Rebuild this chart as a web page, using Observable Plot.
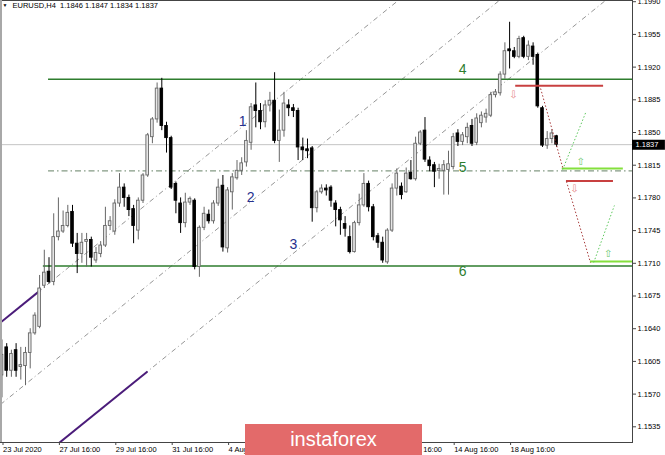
<!DOCTYPE html>
<html>
<head>
<meta charset="utf-8">
<script src="https://cdn.jsdelivr.net/npm/d3@7"></script>
<script src="https://cdn.jsdelivr.net/npm/@observablehq/plot@0.6"></script>
<style>
  body { margin: 0; background: #fff; }
  #chart { position: relative; width: 665px; height: 455px; overflow: hidden; }
  #banner { position: absolute; left: 245px; top: 424px; width: 177px; height: 31px;
    background: #e36a6a; color: #fff; font: 20px "Liberation Sans", Arial, sans-serif;
    text-align: center; line-height: 31px; }
</style>
</head>
<body>
<div id="chart"></div>
<script>
// ---- data (EURUSD H4, bars from 23 Jul 2020 16:00) ----
const symbol = "EURUSD";
const timeframe = "H4";
const opens = [
1.1590,1.1620,1.1595,1.1617,1.1599,1.1600,1.1614,1.1635,1.1642,1.1686,
1.1701,1.1690,1.1738,1.1744,1.1750,1.1765,1.1731,1.1720,1.1733,1.1735,
1.1713,1.1720,1.1729,1.1750,1.1744,1.1774,1.1791,1.1780,1.1768,1.1745,
1.1777,1.1804,1.1845,1.1864,1.1897,1.1857,1.1844,1.1795,1.1774,1.1753,
1.1775,1.1777,1.1706,1.1748,1.1762,1.1755,1.1774,1.1793,1.1726,1.1786,
1.1801,1.1809,1.1818,1.1839,1.1879,1.1873,1.1861,1.1879,1.1884,1.1841,
1.1852,1.1879,1.1876,1.1873,1.1834,1.1832,1.1833,1.1769,1.1786,1.1790,
1.1791,1.1774,1.1767,1.1752,1.1738,1.1722,1.1753,1.1772,1.1795,1.1770,
1.1739,1.1732,1.1711,1.1745,1.1790,1.1792,1.1786,1.1807,1.1800,1.1838,
1.1852,1.1820,1.1815,1.1809,1.1809,1.1810,1.1813,1.1849,1.1840,1.1845,
1.1857,1.1839,1.1860,1.1866,1.1868,1.1890,1.1892,1.1912,1.1939,1.1937,
1.1931,1.1951,1.1931,1.1942,1.1933,1.1876,1.1836,1.1843,1.1846];
const highs = [
1.1628,1.1624,1.1617,1.1624,1.1620,1.1620,1.1640,1.1657,1.1697,1.1724,
1.1716,1.1763,1.1780,1.1766,1.1772,1.1772,1.1742,1.1742,1.1742,1.1738,
1.1727,1.1733,1.1770,1.1760,1.1778,1.1806,1.1795,1.1783,1.1772,1.1780,
1.1806,1.1849,1.1866,1.1903,1.1908,1.1861,1.1846,1.1797,1.1780,1.1785,
1.1781,1.1779,1.1750,1.1770,1.1767,1.1777,1.1800,1.1804,1.1791,1.1806,
1.1820,1.1823,1.1852,1.1881,1.1903,1.1881,1.1884,1.1893,1.1914,1.1874,
1.1893,1.1885,1.1880,1.1876,1.1844,1.1843,1.1835,1.1788,1.1794,1.1794,
1.1793,1.1777,1.1770,1.1760,1.1750,1.1755,1.1784,1.1806,1.1798,1.1773,
1.1742,1.1738,1.1747,1.1795,1.1811,1.1796,1.1812,1.1820,1.1845,1.1852,
1.1866,1.1824,1.1818,1.1816,1.1820,1.1830,1.1849,1.1853,1.1850,1.1860,
1.1864,1.1870,1.1872,1.1875,1.1893,1.1896,1.1915,1.1946,1.1968,1.1941,
1.1953,1.1953,1.1948,1.1946,1.1935,1.1878,1.1851,1.1853,1.1847];
const lows = [
1.1566,1.1588,1.1588,1.1588,1.1585,1.1579,1.1597,1.1633,1.1640,1.1683,
1.1688,1.1686,1.1734,1.1742,1.1748,1.1727,1.1699,1.1710,1.1706,1.1706,
1.1710,1.1716,1.1727,1.1745,1.1740,1.1770,1.1770,1.1760,1.1731,1.1735,
1.1774,1.1802,1.1838,1.1860,1.1852,1.1828,1.1789,1.1763,1.1742,1.1748,
1.1772,1.1703,1.1695,1.1745,1.1752,1.1752,1.1771,1.1722,1.1721,1.1767,
1.1799,1.1804,1.1813,1.1831,1.1855,1.1853,1.1855,1.1872,1.1838,1.1818,
1.1845,1.1867,1.1866,1.1820,1.1820,1.1822,1.1754,1.1764,1.1784,1.1782,
1.1770,1.1749,1.1740,1.1738,1.1720,1.1721,1.1750,1.1770,1.1765,1.1734,
1.1726,1.1710,1.1709,1.1743,1.1782,1.1778,1.1785,1.1799,1.1798,1.1836,
1.1818,1.1808,1.1791,1.1800,1.1783,1.1783,1.1810,1.1835,1.1836,1.1838,
1.1835,1.1836,1.1855,1.1860,1.1866,1.1887,1.1889,1.1907,1.1918,1.1929,
1.1929,1.1929,1.1927,1.1922,1.1876,1.1834,1.1832,1.1838,1.1834];
const closes = [
1.1612,1.1595,1.1613,1.1595,1.1601,1.1614,1.1635,1.1654,1.1683,1.1700,
1.1690,1.1738,1.1744,1.1750,1.1764,1.1731,1.1720,1.1732,1.1735,1.1716,
1.1721,1.1729,1.1750,1.1755,1.1774,1.1791,1.1780,1.1767,1.1750,1.1777,
1.1804,1.1847,1.1864,1.1897,1.1857,1.1844,1.1791,1.1777,1.1753,1.1775,
1.1779,1.1706,1.1748,1.1763,1.1755,1.1774,1.1791,1.1727,1.1788,1.1802,
1.1809,1.1817,1.1841,1.1877,1.1873,1.1861,1.1879,1.1884,1.1841,1.1852,
1.1881,1.1876,1.1873,1.1834,1.1831,1.1830,1.1769,1.1786,1.1790,1.1788,
1.1777,1.1767,1.1756,1.1747,1.1722,1.1753,1.1772,1.1795,1.1770,1.1738,
1.1732,1.1713,1.1745,1.1790,1.1806,1.1783,1.1806,1.1800,1.1838,1.1850,
1.1821,1.1814,1.1808,1.1811,1.1815,1.1816,1.1845,1.1840,1.1847,1.1855,
1.1838,1.1865,1.1868,1.1870,1.1890,1.1893,1.1912,1.1937,1.1937,1.1931,
1.1950,1.1931,1.1943,1.1931,1.1878,1.1836,1.1843,1.1849,1.1837];

// axis ticks (labels under the logo banner are not visible in the picture)
const xTickIndex = [0, 12, 24, 36, 48, 60, 72, 84, 96, 108];
const xTickLabels = ["23 Jul 2020","27 Jul 16:00","29 Jul 16:00","31 Jul 16:00","4 Aug 16:00",
                     "","","12 Aug 16:00","14 Aug 16:00","18 Aug 16:00"];
const yTicks = [1.1990,1.1955,1.1920,1.1885,1.1850,1.1815,1.1780,1.1745,1.1710,1.1675,1.1640,1.1605,1.1570,1.1535];

// horizontal levels: 4 and 6 solid, 5 dash-dot
const levelNames  = ["4", "5", "6"];
const levelPrices = [1.1907, 1.1809, 1.1707];
const levelStart  = [9.9, 9.9, 8.8];

// diagonal channel lines (bar index, price)
const diagX1 = [-0.32, -0.32, 12.3];
const diagY1 = [1.16466, 1.15589, 1.15182];
const diagX2 = [84.3, 105.8, 128.4];
const diagY2 = [1.19913, 1.19913, 1.19913];

// purple segments
const purpX1 = [-0.32, 11.8];
const purpY1 = [1.16466, 1.15163];
const purpX2 = [8.2, 30.96];
const purpY2 = [1.16813, 1.15943];

// red sell levels
const redPrice = [1.1900, 1.1798];
const redX1 = [109.3, 120.1];
const redX2 = [128.0, 130.1];
// lime buy targets
const limePrice = [1.18115, 1.17119];
const limeX1 = [119.2, 125.2];
const limeX2 = [132.2, 134.2];
// red dotted path segments
const rdX1 = [114.6, 120.1], rdY1 = [1.18971, 1.17976];
const rdX2 = [119.3, 125.2], rdY2 = [1.18125, 1.17109];
// green dotted segments
const gdX1 = [119.3, 125.9], gdY1 = [1.18104, 1.17109];
const gdX2 = [124.2, 130.3], gdY2 = [1.18714, 1.17719];
// arrows
const downArrowX = [108.8, 121.8], downArrowY = [1.18907, 1.17901];
const upArrowX = [123.1, 129.0], upArrowY = [1.18190, 1.17205];

// numbered labels
const numText = ["1", "2", "3", "4", "5", "6"];
const numX = [51.2, 52.9, 62.0, 98.0, 98.0, 98.0];
const numY = [1.1862, 1.1780, 1.1730, 1.1917, 1.1812, 1.1701];
const numColor = ["#26308e", "#26308e", "#26308e", "#2e7d2e", "#2e7d2e", "#2e7d2e"];

// ---- build ----
const xDomain = [-0.32, 134.15];
const yDomain = [1.15182, 1.19913];
const last = opens.length - 1;
const lastPrice = closes[last];
const f4 = d => d.toFixed(4);

const bars = opens.map((o, i) => ({i, o, h: highs[i], l: lows[i], c: closes[i], up: closes[i] >= o}));
const bulls = bars.filter(d => d.up), bears = bars.filter(d => !d.up);
const levels = levelNames.map((n, k) => ({n, p: levelPrices[k], s: levelStart[k]}));
const diags = diagX1.map((x, k) => ({x1: x, y1: diagY1[k], x2: diagX2[k], y2: diagY2[k]}));
const purps = purpX1.map((x, k) => ({x1: x, y1: purpY1[k], x2: purpX2[k], y2: purpY2[k]}));
const reds = redPrice.map((p, k) => ({p, x1: redX1[k], x2: redX2[k]}));
const limes = limePrice.map((p, k) => ({p, x1: limeX1[k], x2: limeX2[k]}));
const rdots = rdX1.map((x, k) => ({x1: x, y1: rdY1[k], x2: rdX2[k], y2: rdY2[k]}));
const gdots = gdX1.map((x, k) => ({x1: x, y1: gdY1[k], x2: gdX2[k], y2: gdY2[k]}));
const downs = downArrowX.map((x, k) => ({x, y: downArrowY[k]}));
const ups = upArrowX.map((x, k) => ({x, y: upArrowY[k]}));
const nums = numText.map((t, k) => ({t, x: numX[k], y: numY[k], c: numColor[k]}));
const title = `${symbol},${timeframe}\u00a0\u00a0${[opens[last], highs[last], lows[last], closes[last]].map(f4).join(" ")}`;
const hw = 0.28;

const chart = Plot.plot({
  width: 665, height: 455,
  marginLeft: 0, marginRight: 33, marginTop: 0, marginBottom: 13,
  x: {domain: xDomain, axis: null},
  y: {domain: yDomain, axis: null},
  style: {fontFamily: "'Liberation Sans', Arial, sans-serif", fontSize: "7.5px", background: "#fff", color: "#000"},
  marks: [
    Plot.ruleY([lastPrice], {stroke: "#c4c4c4", strokeWidth: 1}),
    Plot.link(diags, {x1: "x1", y1: "y1", x2: "x2", y2: "y2", stroke: "#7a7a7a", strokeWidth: 0.8, strokeDasharray: "5,3,1,3", clip: true}),
    Plot.ruleY(levels.filter(d => d.n === "5"), {y: "p", x1: "s", x2: xDomain[1], stroke: "#849a84", strokeWidth: 1.2, strokeDasharray: "6,3,1.5,3", clip: true}),
    Plot.ruleY(levels.filter(d => d.n !== "5"), {y: "p", x1: "s", x2: xDomain[1], stroke: "#2e7d2e", strokeWidth: 1.5, clip: true}),
    Plot.link(purps, {x1: "x1", y1: "y1", x2: "x2", y2: "y2", stroke: "#4b1c7a", strokeWidth: 2, clip: true}),
    // candles
    Plot.ruleX(bulls, {x: "i", y1: "l", y2: "h", stroke: "#666", strokeWidth: 1, clip: true}),
    Plot.ruleX(bears, {x: "i", y1: "l", y2: "h", stroke: "#000", strokeWidth: 1, clip: true}),
    Plot.rect(bulls, {x1: d => d.i - hw, x2: d => d.i + hw, y1: "o", y2: "c", fill: "#e6e6e6", stroke: "#666", strokeWidth: 0.9, clip: true}),
    Plot.rect(bears, {x1: d => d.i - hw, x2: d => d.i + hw, y1: "o", y2: "c", fill: "#000", stroke: "#000", strokeWidth: 0.9, clip: true}),
    // trade plan
    Plot.ruleY(limes, {y: "p", x1: "x1", x2: "x2", stroke: "#84e03c", strokeWidth: 2, clip: true}),
    Plot.ruleY(reds, {y: "p", x1: "x1", x2: "x2", stroke: "#c84040", strokeWidth: 2, clip: true}),
    Plot.link(rdots, {x1: "x1", y1: "y1", x2: "x2", y2: "y2", stroke: "#a83c3c", strokeWidth: 1, strokeDasharray: "1.5,2", clip: true}),
    Plot.link(gdots, {x1: "x1", y1: "y1", x2: "x2", y2: "y2", stroke: "#5cc85c", strokeWidth: 1, strokeDasharray: "1.5,2", clip: true}),
    Plot.text(downs, {x: "x", y: "y", text: () => "\u21E9", fill: "#e68888", fontSize: 10, fontFamily: "DejaVu Sans"}),
    Plot.text(ups, {x: "x", y: "y", text: () => "\u21E7", fill: "#6cc86c", fontSize: 10, fontFamily: "DejaVu Sans"}),
    // numbers
    Plot.text(nums, {x: "x", y: "y", text: "t", fill: "c", fontSize: 14}),
    // frame & axes
    Plot.frame({stroke: "#444", strokeWidth: 1}),
    Plot.ruleX([xDomain[0]], {stroke: "#a8a8a8", strokeWidth: 3}),
    Plot.axisY(yTicks, {anchor: "right", tickSize: 3, tickPadding: 2, tickFormat: f4, stroke: "#444"}),
    Plot.axisX(xTickIndex, {anchor: "bottom", tickSize: 3, tickPadding: 1, textAnchor: "start", dx: 1,
      tickFormat: d => xTickLabels[xTickIndex.indexOf(d)], stroke: "#444"}),
    // last price tag
    Plot.ruleY([lastPrice], {x1: xDomain[1], x2: xDomain[1] + 7, stroke: "#000", strokeWidth: 10}),
    Plot.text([lastPrice], {x: xDomain[1], y: d => d, text: f4, fill: "#fff", textAnchor: "start", dx: 3}),
    // title
    Plot.text([title], {frameAnchor: "top-left", text: d => d, textAnchor: "start", lineAnchor: "top", dx: 12, dy: 2, fill: "#000"}),
    Plot.text(["\u25BC"], {frameAnchor: "top-left", text: d => d, textAnchor: "start", lineAnchor: "top", dx: 2, dy: 3, fontSize: 5, fill: "#000"})
  ]
});
document.getElementById("chart").appendChild(chart);
const banner = document.createElement("div");
banner.id = "banner";
banner.textContent = "instaforex";
document.getElementById("chart").appendChild(banner);
</script>
</body>
</html>
